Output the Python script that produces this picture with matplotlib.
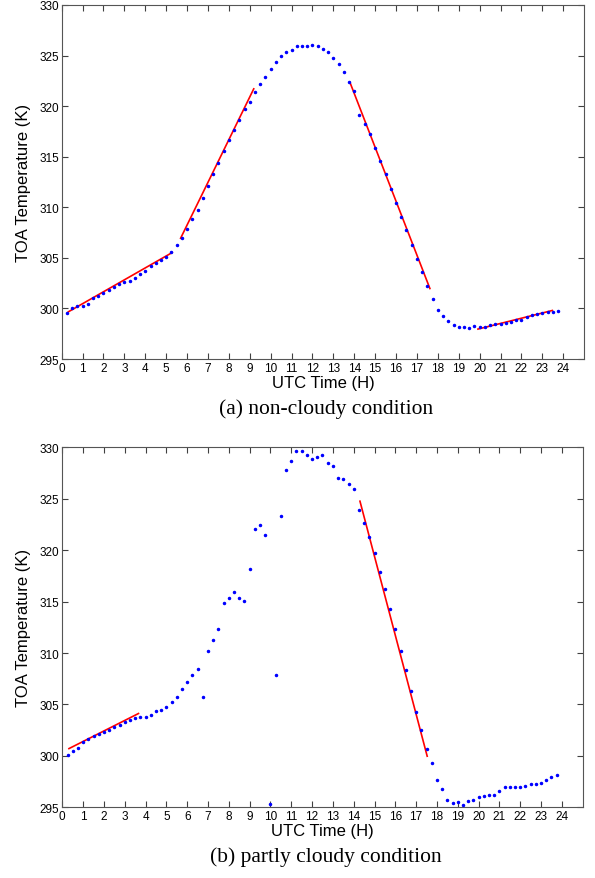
import numpy as np
import matplotlib
matplotlib.use('Agg')
import matplotlib.pyplot as plt

# samples every 0.25 h
hours = np.arange(1, 96) * 0.25

temp_clear = [299.54, 300.0, 300.2, 300.26, 300.49, 300.99, 301.22, 301.55, 301.78, 302.1,
              302.43, 302.57, 302.7, 303.06, 303.39, 303.75, 304.18, 304.54, 304.77, 305.13,
              305.59, 306.32, 306.97, 307.83, 308.82, 309.7, 310.92, 312.07, 313.26, 314.34,
              315.53, 316.61, 317.6, 318.59, 319.67, 320.39, 321.35, 322.17, 322.89, 323.68,
              324.38, 324.97, 325.33, 325.53, 325.92, 325.92, 325.92, 326.09, 325.95, 325.63,
              325.39, 324.77, 324.18, 323.36, 322.34, 321.48, 319.14, 318.19, 317.24, 315.86,
              314.57, 313.26, 311.84, 310.39, 309.01, 307.8, 306.25, 304.87, 303.62, 302.24,
              300.95, 299.87, 299.28, 298.75, 298.39, 298.16, 298.16, 298.03, 298.29, 298.16,
              298.19, 298.39, 298.42, 298.42, 298.55, 298.68, 298.85, 298.88, 299.18, 299.34,
              299.41, 299.54, 299.67, 299.61, 299.77]

temp_cloudy = [300.1, 300.45, 300.81, 301.33, 301.65, 301.91, 302.11, 302.3, 302.53, 302.79,
               303.05, 303.31, 303.53, 303.66, 303.79, 303.79, 304.02, 304.41, 304.5, 304.76,
               305.22, 305.7, 306.51, 307.19, 307.91, 308.46, 305.7, 310.17, 311.28, 312.35,
               314.87, 315.36, 315.91, 315.36, 315.1, 318.18, 322.07, 322.49, 321.48, 295.37,
               307.87, 323.3, 327.8, 328.68, 329.68, 329.68, 329.29, 328.9, 329.1, 329.29,
               328.52, 328.22, 327.03, 326.9, 326.44, 325.92, 323.91, 322.62, 321.29, 319.7,
               317.92, 316.27, 314.32, 312.35, 310.17, 308.33, 306.32, 304.24, 302.53, 300.68,
               299.29, 297.67, 296.79, 295.76, 295.4, 295.5, 295.2, 295.66, 295.76, 296.01,
               296.11, 296.21, 296.21, 296.63, 296.99, 296.99, 296.99, 296.99, 297.12, 297.25,
               297.25, 297.38, 297.67, 297.99, 298.15]

# fitted segments: (x0, x1, y0, y1)
fits_clear = [(0.32, 5.29, 299.67, 305.53),
              (5.69, 9.19, 306.94, 321.71),
              (13.79, 17.62, 322.37, 301.97),
              (19.92, 23.48, 297.96, 299.8)]
fits_cloudy = [(0.32, 3.66, 300.71, 304.12),
               (14.30, 17.53, 324.76, 299.97)]

captions = ['(a) non-cloudy condition', '(b) partly cloudy condition']


def draw_panel(ax, temps, fits):
    ax.plot(hours, temps, '.', color='#0000ff', ms=3, zorder=3)
    for x0, x1, y0, y1 in fits:
        ax.plot([x0, x1], [y0, y1], '-', color='#ff0000', lw=1.2, zorder=2)
    ax.set_xlim(0, 25)
    ax.set_ylim(295, 330)
    ax.set_xticks(range(0, 25))
    ax.set_yticks(range(295, 331, 5))
    ax.tick_params(direction='in', top=True, right=True, labelsize=8.5, length=4,
                   pad=2, color='#404040')
    for s in ax.spines.values():
        s.set_color('#555555')
    ax.set_xlabel('UTC Time (H)', fontsize=12, labelpad=1, family='Liberation Sans')
    ax.set_ylabel('TOA Temperature (K)', fontsize=12, labelpad=6, family='Liberation Sans')
    for lab in ax.get_xticklabels() + ax.get_yticklabels():
        lab.set_family('Liberation Sans')


fig = plt.figure(figsize=(5.95, 8.79), dpi=100)
ax1 = fig.add_axes([0.1037, 0.5904, 0.878, 0.4028])
ax2 = fig.add_axes([0.1047, 0.0804, 0.8746, 0.4096])
draw_panel(ax1, temp_clear, fits_clear)
draw_panel(ax2, temp_cloudy, fits_cloudy)

fig.text(0.548, 1 - 409 / 879, captions[0], ha='center', va='center',
         fontsize=15.5, family='Liberation Serif')
fig.text(0.548, 1 - 857 / 879, captions[1], ha='center', va='center',
         fontsize=15.5, family='Liberation Serif')

fig.savefig('out.png', dpi=100)
